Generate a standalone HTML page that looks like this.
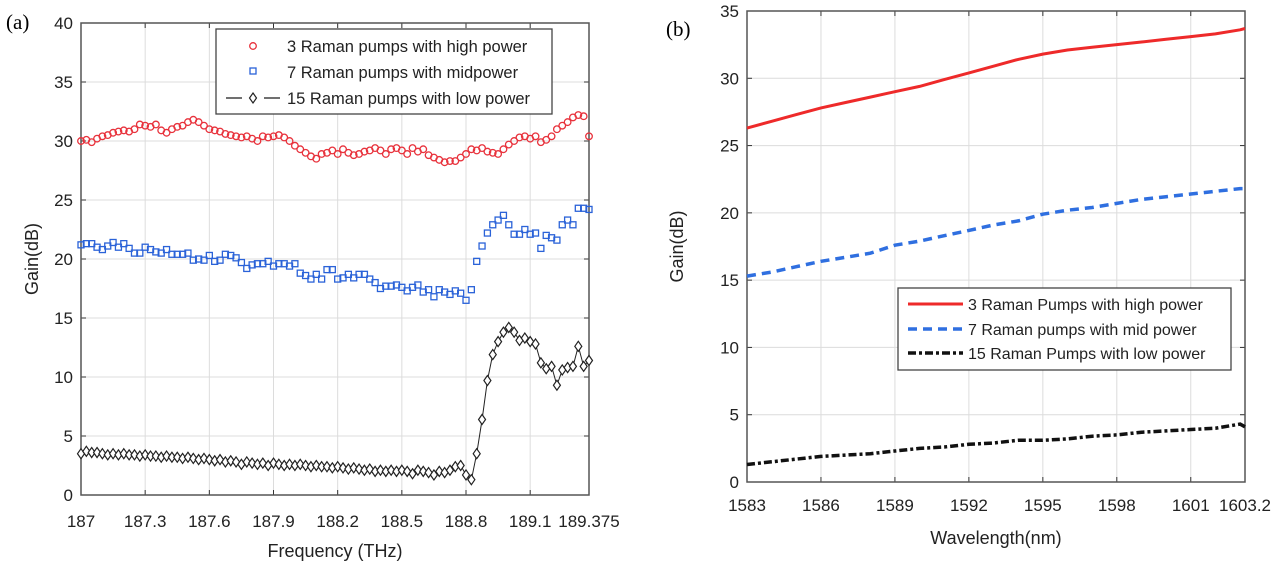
<!DOCTYPE html>
<html><head><meta charset="utf-8"><style>
body{margin:0;background:#fff}
svg{display:block;font-family:"Liberation Sans",sans-serif}
</style></head><body>
<svg id="fig" width="1280" height="573" viewBox="0 0 1280 573">
<text x="6" y="29" font-family="Liberation Serif,serif" font-size="21">(a)</text>
<text x="666" y="36" font-family="Liberation Serif,serif" font-size="21">(b)</text>
<g id="pa"></g>
<g id="pb"></g>
</svg>
<script>
// ---- Panel (a) data ----
const aFreqStart = 187, aFreqStep = 0.025;
const aXTicks = [187, 187.3, 187.6, 187.9, 188.2, 188.5, 188.8, 189.1, 189.375];
const aXTickLabels = ["187","187.3","187.6","187.9","188.2","188.5","188.8","189.1","189.375"];
const aYTicks = [0,5,10,15,20,25,30,35,40];
const aHigh = [30.0,30.1,29.9,30.2,30.4,30.5,30.7,30.8,30.9,30.8,31.0,31.4,31.3,31.2,31.4,30.9,30.7,31.0,31.2,31.3,31.6,31.8,31.6,31.3,31.0,30.9,30.8,30.6,30.5,30.4,30.3,30.4,30.2,30.0,30.4,30.3,30.4,30.5,30.3,30.0,29.6,29.3,29.0,28.7,28.5,28.9,29.0,29.2,28.9,29.3,29.0,28.8,28.9,29.1,29.2,29.4,29.2,28.9,29.3,29.4,29.2,28.9,29.4,29.1,29.3,28.8,28.6,28.4,28.2,28.3,28.3,28.6,28.9,29.3,29.2,29.4,29.1,29.0,28.9,29.3,29.7,30.0,30.3,30.4,30.2,30.4,29.9,30.1,30.4,31.0,31.3,31.6,32.0,32.2,32.1,30.4];
const aMid = [21.2,21.3,21.3,21.0,20.8,21.1,21.4,21.0,21.3,20.9,20.5,20.5,21.0,20.8,20.6,20.5,20.8,20.4,20.4,20.4,20.5,19.9,20.0,19.9,20.3,19.8,19.9,20.4,20.3,20.1,19.7,19.2,19.5,19.6,19.6,19.8,19.4,19.6,19.6,19.4,19.6,18.8,18.6,18.3,18.7,18.3,19.1,19.1,18.3,18.4,18.7,18.4,18.7,18.7,18.3,18.0,17.5,17.7,17.7,17.8,17.6,17.3,17.6,17.8,17.2,17.4,16.8,17.4,17.2,17.0,17.3,17.1,16.5,17.4,19.8,21.1,22.2,22.9,23.3,23.7,22.9,22.1,22.1,22.5,22.1,22.2,20.9,22.0,21.8,21.6,22.9,23.3,22.9,24.3,24.3,24.2];
const aLow = [3.5,3.7,3.6,3.6,3.5,3.4,3.5,3.4,3.5,3.4,3.4,3.3,3.4,3.3,3.3,3.2,3.3,3.2,3.2,3.1,3.2,3.1,3.0,3.1,3.0,2.9,3.0,2.8,2.9,2.8,2.6,2.8,2.7,2.6,2.7,2.5,2.7,2.6,2.5,2.6,2.5,2.6,2.5,2.4,2.5,2.4,2.4,2.3,2.4,2.3,2.2,2.3,2.2,2.1,2.2,2.0,2.1,2.0,2.1,2.0,2.1,2.0,1.8,2.1,2.0,1.9,1.7,2.0,1.9,2.1,2.4,2.5,1.7,1.3,3.5,6.4,9.7,11.9,13.0,13.8,14.2,13.8,13.1,13.3,13.0,12.8,11.2,10.7,10.9,9.3,10.6,10.8,10.9,12.6,10.9,11.4];
// ---- Panel (b) data ----
const bWl = [1583,1584,1585,1586,1587,1588,1589,1590,1591,1592,1593,1594,1595,1596,1597,1598,1599,1600,1601,1602,1603,1603.2];
const bHigh = [26.3,26.8,27.3,27.8,28.2,28.6,29.0,29.4,29.9,30.4,30.9,31.4,31.8,32.1,32.3,32.5,32.7,32.9,33.1,33.3,33.6,33.7];
const bMid = [15.3,15.6,16.0,16.4,16.7,17.0,17.6,17.9,18.3,18.7,19.1,19.4,19.9,20.2,20.4,20.7,21.0,21.2,21.4,21.6,21.8,21.8];
const bLow = [1.3,1.5,1.7,1.9,2.0,2.1,2.3,2.5,2.6,2.8,2.9,3.1,3.1,3.2,3.4,3.5,3.7,3.8,3.9,4.0,4.3,4.1];
const bXTicks = [1583,1586,1589,1592,1595,1598,1601,1603.2];
const bXTickLabels = ["1583","1586","1589","1592","1595","1598","1601","1603.2"];
const bYTicks = [0,5,10,15,20,25,30,35];

const NS="http://www.w3.org/2000/svg";
function mk(parent,tag,attrs,text){const e=document.createElementNS(NS,tag);for(const k in attrs)e.setAttribute(k,attrs[k]);if(text!==undefined)e.textContent=text;parent.appendChild(e);return e;}

function axes(g,X,Y,x0,x1,y0,y1,xt,xtl,yt,xlab,ylab,xlabY,ylabX,tickLabY){
  mk(g,'rect',{x:x0,y:y1,width:x1-x0,height:y0-y1,fill:'#fff'});
  xt.forEach((v,i)=>{
    const l=mk(g,'line',{x1:X(v),x2:X(v),y1:y0,y2:y1,stroke:'#dcdcdc','stroke-width':1});
    
    
    mk(g,'line',{x1:X(v),x2:X(v),y1:y0,y2:y0-5,stroke:'#333'});
    mk(g,'line',{x1:X(v),x2:X(v),y1:y1,y2:y1+5,stroke:'#333'});
    const t=mk(g,'text',{x:X(v),y:tickLabY,'text-anchor':'middle','font-size':17,fill:'#222'},xtl[i]);
    
    
  });
  yt.forEach(v=>{
    const l=mk(g,'line',{x1:x0,x2:x1,y1:Y(v),y2:Y(v),stroke:'#dcdcdc','stroke-width':1});
    
    
    mk(g,'line',{x1:x0,x2:x0+5,y1:Y(v),y2:Y(v),stroke:'#333'});
    mk(g,'line',{x1:x1,x2:x1-5,y1:Y(v),y2:Y(v),stroke:'#333'});
    const t=mk(g,'text',{x:x0-8,y:Y(v)+6,'text-anchor':'end','font-size':17,fill:'#222'},String(v));
    
    
  });
  const b=mk(g,'rect',{x:x0,y:y1,width:x1-x0,height:y0-y1,fill:'none',stroke:'#555','stroke-width':1.5});
  
  
  const xl=mk(g,'text',{x:(x0+x1)/2,y:xlabY,'text-anchor':'middle','font-size':18,fill:'#222'},xlab);
  
  
  const yl=mk(g,'text',{x:ylabX,y:(y0+y1)/2,'text-anchor':'middle','font-size':18,fill:'#222',transform:`rotate(-90 ${ylabX} ${(y0+y1)/2})`},ylab);
  
  
}

// Panel a
(function(){
  const g=document.getElementById('pa');
  const x0=81,x1=589,y0=495,y1=23;
  const X=v=>x0+(v-187)/(189.375-187)*(x1-x0);
  const Y=v=>y0-v/40*(y0-y1);
  axes(g,X,Y,x0,x1,y0,y1,aXTicks,aXTickLabels,aYTicks,'Frequency (THz)','Gain(dB)',557,38,527);
  const f=i=>aFreqStart+i*aFreqStep;
  // low series line
  const pts=aLow.map((v,i)=>X(f(i)).toFixed(1)+','+Y(v).toFixed(1)).join(' ');
  const pl=mk(g,'polyline',{points:pts,fill:'none',stroke:'#222','stroke-width':1});
  
  
  aHigh.forEach((v,i)=>{
    const c=mk(g,'circle',{cx:X(f(i)),cy:Y(v),r:3.3,fill:'none',stroke:'#e8323c','stroke-width':1.3});
    
    
  });
  aMid.forEach((v,i)=>{
    const r=mk(g,'rect',{x:X(f(i))-3,y:Y(v)-3,width:6,height:6,fill:'none',stroke:'#2a62d8','stroke-width':1.3});
    
    
  });
  aLow.forEach((v,i)=>{
    const cx=X(f(i)),cy=Y(v);
    const p=mk(g,'polygon',{points:`${cx},${cy-5} ${cx+3.5},${cy} ${cx},${cy+5} ${cx-3.5},${cy}`,fill:'#fff',stroke:'#222','stroke-width':1.2});
    
    
  });
  const lg=mk(g,'g',{});
  
  
  mk(lg,'rect',{x:216,y:29,width:336,height:85,fill:'#fff',stroke:'#444','stroke-width':1.3});
  mk(lg,'circle',{cx:253,cy:46,r:3.3,fill:'none',stroke:'#e8323c','stroke-width':1.3});
  mk(lg,'rect',{x:250,y:68,width:6,height:6,fill:'none',stroke:'#2a62d8','stroke-width':1.3});
  mk(lg,'line',{x1:226,x2:242,y1:98,y2:98,stroke:'#222','stroke-width':1.3});
  mk(lg,'line',{x1:264,x2:280,y1:98,y2:98,stroke:'#222','stroke-width':1.3});
  mk(lg,'polygon',{points:'253,93 256.5,98 253,103 249.5,98',fill:'#fff',stroke:'#222','stroke-width':1.2});
  [['3 Raman pumps with high power',52],['7 Raman pumps with midpower',78],['15 Raman pumps with low power',104]].forEach(([t,y])=>{
    const e=mk(lg,'text',{x:287,y:y,'font-size':16.5,fill:'#222'},t);
    
    
  });
})();

// Panel b
(function(){
  const g=document.getElementById('pb');
  const x0=747,x1=1245,y0=482,y1=11;
  const X=v=>x0+(v-1583)/(1603.2-1583)*(x1-x0);
  const Y=v=>y0-v/35*(y0-y1);
  axes(g,X,Y,x0,x1,y0,y1,bXTicks,bXTickLabels,bYTicks,'Wavelength(nm)','Gain(dB)',544,683,511);
  const line=(arr,attrs,name)=>{
    const pts=arr.map((v,i)=>X(bWl[i]).toFixed(1)+','+Y(v).toFixed(1)).join(' ');
    const p=mk(g,'polyline',Object.assign({points:pts,fill:'none'},attrs));
    
    
  };
  line(bHigh,{stroke:'#ee2a2a','stroke-width':3},'high-power-line');
  line(bMid,{stroke:'#2f6fe0','stroke-width':3.5,'stroke-dasharray':'9 6'},'mid-power-line');
  line(bLow,{stroke:'#111','stroke-width':3.5,'stroke-dasharray':'8 3 3 3'},'low-power-line');
  const lg=mk(g,'g',{});
  
  
  mk(lg,'rect',{x:898,y:288,width:333,height:82,fill:'#fff',stroke:'#444','stroke-width':1.3});
  mk(lg,'line',{x1:908,x2:963,y1:304,y2:304,stroke:'#ee2a2a','stroke-width':3});
  mk(lg,'line',{x1:908,x2:963,y1:329,y2:329,stroke:'#2f6fe0','stroke-width':3.5,'stroke-dasharray':'9 6'});
  mk(lg,'line',{x1:908,x2:963,y1:353,y2:353,stroke:'#111','stroke-width':3.5,'stroke-dasharray':'8 3 3 3'});
  [['3 Raman Pumps with high power',310],['7 Raman pumps with mid power',335],['15 Raman Pumps with low power',359]].forEach(([t,y])=>{
    const e=mk(lg,'text',{x:968,y:y,'font-size':16,fill:'#222'},t);
    
    
  });
})();
</script>
</body></html>
